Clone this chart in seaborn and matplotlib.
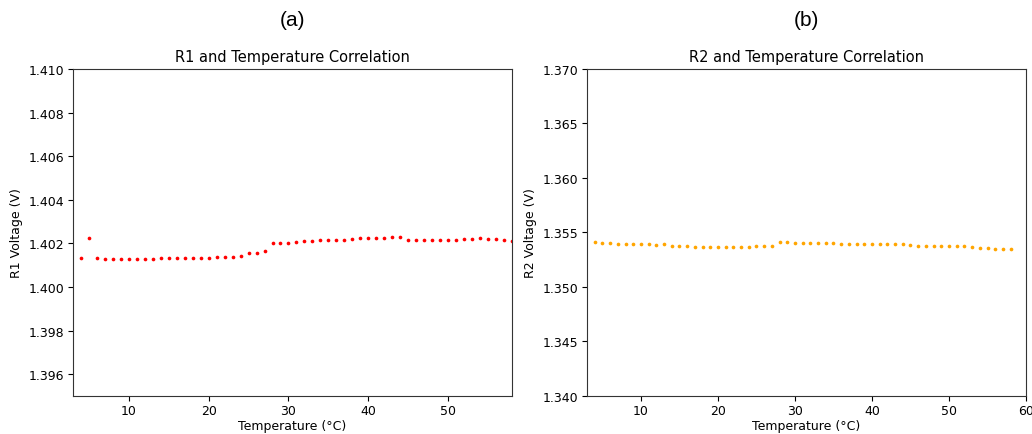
import pandas as pd
import matplotlib
matplotlib.use('Agg')
import matplotlib.pyplot as plt
import seaborn as sns

# temperatures (deg C), one reading per degree
temps = list(range(4, 59))

r1_voltage = [
    1.40135, 1.40227, 1.40132, 1.40127, 1.40127, 1.40127, 1.40127, 1.40127, 1.40127, 1.40127,
    1.40132, 1.40132, 1.40132, 1.40132, 1.40132, 1.40135, 1.40135, 1.40139, 1.40139, 1.40139,
    1.40144, 1.40156, 1.40156, 1.40165, 1.40200, 1.40200, 1.40202, 1.40205, 1.40211, 1.40211,
    1.40215, 1.40215, 1.40215, 1.40215, 1.40218, 1.40223, 1.40226, 1.40226, 1.40226, 1.40229,
    1.40229, 1.40217, 1.40215, 1.40214, 1.40214, 1.40215, 1.40215, 1.40215, 1.40220, 1.40220,
    1.40226, 1.40220, 1.40220, 1.40214, 1.40211,
]

r2_voltage = [
    1.35414, 1.35408, 1.35402, 1.35396, 1.35393, 1.35393, 1.35390, 1.35390, 1.35387, 1.35390,
    1.35378, 1.35378, 1.35372, 1.35368, 1.35368, 1.35368, 1.35368, 1.35368, 1.35368, 1.35368,
    1.35368, 1.35375, 1.35378, 1.35378, 1.35411, 1.35411, 1.35402, 1.35402, 1.35402, 1.35402,
    1.35399, 1.35402, 1.35393, 1.35393, 1.35393, 1.35393, 1.35393, 1.35393, 1.35393, 1.35393,
    1.35393, 1.35387, 1.35378, 1.35378, 1.35378, 1.35372, 1.35372, 1.35372, 1.35372, 1.35368,
    1.35362, 1.35362, 1.35353, 1.35353, 1.35347,
]

data = pd.DataFrame({'Temperature': temps, 'R1': r1_voltage, 'R2': r2_voltage})

plt.rcParams['font.size'] = 9
plt.rcParams['xtick.major.pad'] = 2.5
plt.rcParams['ytick.major.pad'] = 3
plt.rcParams['axes.edgecolor'] = '#333333'

fig = plt.figure(figsize=(10.32, 4.35), dpi=100)
ax1 = fig.add_axes([0.0707, 0.0874, 0.4254, 0.7517])
ax2 = fig.add_axes([0.5688, 0.0874, 0.4254, 0.7517])

# R1
sns.scatterplot(data=data, x='Temperature', y='R1', color='red', s=7, linewidth=0, ax=ax1)
ax1.set_xlim(3, 58)
ax1.set_ylim(1.395, 1.410)
ax1.set_yticks([1.396, 1.398, 1.400, 1.402, 1.404, 1.406, 1.408, 1.410])
ax1.yaxis.set_major_formatter(matplotlib.ticker.FormatStrFormatter('%.3f'))
ax1.set_title('R1 and Temperature Correlation', fontsize=10.5)
ax1.set_xlabel('Temperature (°C)', labelpad=1)
ax1.set_ylabel('R1 Voltage (V)')

# R2
sns.scatterplot(data=data, x='Temperature', y='R2', color='orange', s=7, linewidth=0, ax=ax2)
ax2.set_xlim(3, 60)
ax2.set_ylim(1.340, 1.370)
ax2.yaxis.set_major_formatter(matplotlib.ticker.FormatStrFormatter('%.3f'))
ax2.set_title('R2 and Temperature Correlation', fontsize=10.5)
ax2.set_xlabel('Temperature (°C)', labelpad=1)
ax2.set_ylabel('R2 Voltage (V)')

fig.text(0.2834, 0.954, '(a)', ha='center', va='center', fontsize=15, family='Liberation Sans')
fig.text(0.7815, 0.954, '(b)', ha='center', va='center', fontsize=15, family='Liberation Sans')

plt.savefig('out.png', dpi=100)
